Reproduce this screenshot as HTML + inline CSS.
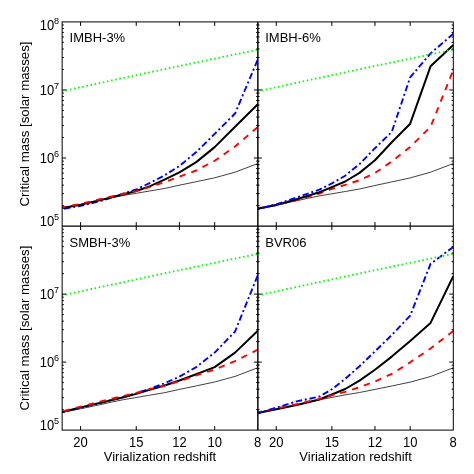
<!DOCTYPE html>
<html><head><meta charset="utf-8"><title>Critical mass vs virialization redshift</title>
<style>html,body{margin:0;padding:0;background:#fff}svg{display:block;will-change:transform}text{font-family:"Liberation Sans",sans-serif;fill:#000}</style></head><body>
<svg width="474" height="474" viewBox="0 0 474 474">
<rect width="474" height="474" fill="#fff"/>
<clipPath id="cIMBH3"><rect x="62.15" y="21.90" width="195.70" height="204.20"/></clipPath>
<g clip-path="url(#cIMBH3)" fill="none" stroke-linejoin="round">
<path d="M62.15 208.10 L80.59 204.60 L100.97 200.30 L112.03 197.80 L123.76 195.40 L136.24 193.30 L149.59 191.00 L163.93 188.60 L179.41 185.20 L196.24 181.70 L214.68 177.80 L235.06 172.20 L257.85 163.50" stroke="#000" stroke-width="0.75"/>
<path d="M62.15 209.10 L80.59 205.90 L100.97 200.90 L112.03 197.50 L123.76 193.40 L136.24 189.50 L149.59 183.10 L163.93 175.70 L179.41 166.00 L196.24 152.10 L214.68 133.90 L235.06 113.50 L257.85 59.40" stroke="#0000ff" stroke-width="1.9" stroke-dasharray="6.4 2.8 2 2.8" stroke-dashoffset="-2.0"/>
<path d="M62.15 208.10 L80.59 204.80 L100.97 199.90 L112.03 197.10 L123.76 194.30 L136.24 191.00 L149.59 186.40 L163.93 179.90 L179.41 172.40 L196.24 162.10 L214.68 147.10 L235.06 126.80 L257.85 104.20" stroke="#000" stroke-width="2"/>
<path d="M62.15 207.30 L80.59 203.90 L100.97 199.00 L112.03 196.30 L123.76 193.70 L136.24 191.10 L149.59 187.20 L163.93 182.40 L179.41 176.70 L196.24 170.50 L214.68 160.80 L235.06 146.50 L257.85 127.00" stroke="#ff0000" stroke-width="1.9" stroke-dasharray="6.4 6.0" stroke-dashoffset="-10.0"/>
<path d="M62.15 91.23 L71.15 89.27 L80.59 87.21 L90.51 85.05 L100.97 82.78 L112.03 80.39 L123.76 77.86 L136.24 75.17 L149.59 72.32 L163.93 69.26 L179.41 65.98 L196.24 62.44 L214.68 58.59 L235.06 54.37 L257.85 49.71" stroke="#00ff00" stroke-width="1.8" stroke-dasharray="1.6 2.615" stroke-dashoffset="-3.7"/>
</g>
<clipPath id="cIMBH6"><rect x="257.85" y="21.90" width="195.45" height="204.20"/></clipPath>
<g clip-path="url(#cIMBH6)" fill="none" stroke-linejoin="round">
<path d="M257.85 208.40 L276.26 205.00 L296.62 200.80 L307.66 198.30 L319.38 195.90 L331.85 193.80 L345.18 191.50 L359.50 189.00 L374.96 185.50 L391.77 181.90 L410.19 177.90 L430.54 172.20 L453.30 163.50" stroke="#000" stroke-width="0.75"/>
<path d="M257.85 208.30 L276.26 205.10 L296.62 200.00 L319.38 193.70 L331.85 188.90 L345.18 184.90 L359.50 180.20 L374.96 173.10 L391.77 161.40 L410.19 146.90 L430.54 126.90 L453.30 70.10" stroke="#ff0000" stroke-width="1.9" stroke-dasharray="6.4 6.0" stroke-dashoffset="-11.5"/>
<path d="M257.85 208.70 L276.26 205.00 L296.62 199.20 L319.38 192.20 L331.85 187.10 L345.18 181.50 L359.50 172.90 L374.96 160.30 L391.77 142.20 L410.19 123.70 L430.54 66.30 L453.30 44.90" stroke="#000" stroke-width="2"/>
<path d="M257.85 209.00 L276.26 204.30 L296.62 197.50 L319.38 189.60 L331.85 183.40 L345.18 175.70 L359.50 164.10 L374.96 148.20 L391.77 131.90 L410.19 77.30 L430.54 53.40 L453.30 33.80" stroke="#0000ff" stroke-width="1.9" stroke-dasharray="6.4 2.8 2 2.8" stroke-dashoffset="-4.8"/>
<path d="M257.85 91.23 L266.84 89.27 L276.26 87.21 L286.18 85.05 L296.62 82.78 L307.66 80.39 L319.38 77.86 L331.85 75.17 L345.18 72.32 L359.50 69.26 L374.96 65.98 L391.77 62.44 L410.19 58.59 L430.54 54.37 L453.30 49.71" stroke="#00ff00" stroke-width="1.8" stroke-dasharray="1.6 2.615" stroke-dashoffset="-3.7"/>
</g>
<clipPath id="cSMBH3"><rect x="62.15" y="226.10" width="195.70" height="204.00"/></clipPath>
<g clip-path="url(#cSMBH3)" fill="none" stroke-linejoin="round">
<path d="M62.15 412.30 L80.59 408.80 L100.97 404.50 L112.03 402.00 L123.76 399.60 L136.24 397.50 L149.59 395.20 L163.93 392.80 L179.41 389.40 L196.24 385.90 L214.68 382.00 L235.06 376.40 L257.85 367.70" stroke="#000" stroke-width="0.75"/>
<path d="M62.15 412.40 L80.59 407.70 L100.97 402.80 L123.76 396.90 L136.24 393.20 L149.59 388.80 L163.93 383.60 L179.41 376.60 L196.24 367.10 L214.68 352.60 L235.06 331.50 L257.85 275.10" stroke="#0000ff" stroke-width="1.9" stroke-dasharray="6.4 2.8 2 2.8" stroke-dashoffset="-10.8"/>
<path d="M62.15 411.90 L80.59 407.40 L100.97 402.60 L123.76 397.30 L136.24 393.90 L149.59 389.90 L163.93 385.80 L179.41 380.50 L196.24 374.20 L214.68 367.10 L235.06 352.60 L257.85 330.70" stroke="#000" stroke-width="2"/>
<path d="M62.15 411.50 L80.59 406.60 L100.97 401.40 L123.76 395.80 L136.24 392.90 L149.59 389.10 L163.93 385.80 L179.41 381.20 L196.24 375.30 L214.68 369.50 L235.06 361.10 L257.85 349.60" stroke="#ff0000" stroke-width="1.9" stroke-dasharray="6.4 6.0" stroke-dashoffset="-1.5"/>
<path d="M62.15 295.43 L71.15 293.47 L80.59 291.41 L90.51 289.25 L100.97 286.98 L112.03 284.59 L123.76 282.06 L136.24 279.37 L149.59 276.52 L163.93 273.46 L179.41 270.18 L196.24 266.64 L214.68 262.79 L235.06 258.57 L257.85 253.91" stroke="#00ff00" stroke-width="1.8" stroke-dasharray="1.6 2.615" stroke-dashoffset="-3.7"/>
</g>
<clipPath id="cBVR06"><rect x="257.85" y="226.10" width="195.45" height="204.00"/></clipPath>
<g clip-path="url(#cBVR06)" fill="none" stroke-linejoin="round">
<path d="M257.85 412.80 L276.26 409.30 L296.62 405.00 L307.66 402.50 L319.38 399.80 L331.85 397.40 L345.18 394.90 L359.50 392.50 L374.96 389.40 L391.77 386.00 L410.19 382.10 L430.54 376.50 L453.30 367.80" stroke="#000" stroke-width="0.75"/>
<path d="M257.85 412.90 L276.26 409.30 L296.62 405.00 L319.38 399.50 L331.85 394.50 L345.18 389.00 L359.50 380.60 L374.96 369.70 L391.77 356.60 L410.19 340.90 L430.54 322.90 L453.30 276.10" stroke="#000" stroke-width="2"/>
<path d="M257.85 412.10 L276.26 408.50 L296.62 404.20 L319.38 398.90 L331.85 395.30 L345.18 391.80 L359.50 387.30 L374.96 381.50 L391.77 373.90 L410.19 362.30 L430.54 348.50 L453.30 331.00" stroke="#ff0000" stroke-width="1.9" stroke-dasharray="6.4 6.0" stroke-dashoffset="-10.1"/>
<path d="M257.85 413.30 L276.26 407.70 L296.62 401.40 L307.66 399.10 L319.38 396.60 L331.85 389.30 L345.18 378.90 L359.50 366.20 L374.96 351.40 L391.77 335.00 L410.19 315.60 L430.54 263.90 L453.30 246.90" stroke="#0000ff" stroke-width="1.9" stroke-dasharray="6.4 2.8 2 2.8" stroke-dashoffset="-11.7"/>
<path d="M257.85 295.43 L266.84 293.47 L276.26 291.41 L286.18 289.25 L296.62 286.98 L307.66 284.59 L319.38 282.06 L331.85 279.37 L345.18 276.52 L359.50 273.46 L374.96 270.18 L391.77 266.64 L410.19 262.79 L430.54 258.57 L453.30 253.91" stroke="#00ff00" stroke-width="1.8" stroke-dasharray="1.6 2.615" stroke-dashoffset="-3.7"/>
</g>
<g stroke="#000" stroke-width="1" fill="none">
<path d="M80.59 226.10 V222.10 M80.59 21.90 V25.90"/>
<path d="M136.24 226.10 V222.10 M136.24 21.90 V25.90"/>
<path d="M179.41 226.10 V222.10 M179.41 21.90 V25.90"/>
<path d="M214.68 226.10 V222.10 M214.68 21.90 V25.90"/>
<path d="M62.15 205.61 H63.85 M257.85 205.61 H256.15"/>
<path d="M62.15 193.62 H63.85 M257.85 193.62 H256.15"/>
<path d="M62.15 185.12 H63.85 M257.85 185.12 H256.15"/>
<path d="M62.15 178.52 H63.85 M257.85 178.52 H256.15"/>
<path d="M62.15 173.13 H63.85 M257.85 173.13 H256.15"/>
<path d="M62.15 168.58 H63.85 M257.85 168.58 H256.15"/>
<path d="M62.15 164.63 H63.85 M257.85 164.63 H256.15"/>
<path d="M62.15 161.15 H63.85 M257.85 161.15 H256.15"/>
<path d="M62.15 158.03 H66.15 M257.85 158.03 H253.85"/>
<path d="M62.15 137.54 H63.85 M257.85 137.54 H256.15"/>
<path d="M62.15 125.56 H63.85 M257.85 125.56 H256.15"/>
<path d="M62.15 117.05 H63.85 M257.85 117.05 H256.15"/>
<path d="M62.15 110.46 H63.85 M257.85 110.46 H256.15"/>
<path d="M62.15 105.07 H63.85 M257.85 105.07 H256.15"/>
<path d="M62.15 100.51 H63.85 M257.85 100.51 H256.15"/>
<path d="M62.15 96.56 H63.85 M257.85 96.56 H256.15"/>
<path d="M62.15 93.08 H63.85 M257.85 93.08 H256.15"/>
<path d="M62.15 89.97 H66.15 M257.85 89.97 H253.85"/>
<path d="M62.15 69.48 H63.85 M257.85 69.48 H256.15"/>
<path d="M62.15 57.49 H63.85 M257.85 57.49 H256.15"/>
<path d="M62.15 48.99 H63.85 M257.85 48.99 H256.15"/>
<path d="M62.15 42.39 H63.85 M257.85 42.39 H256.15"/>
<path d="M62.15 37.00 H63.85 M257.85 37.00 H256.15"/>
<path d="M62.15 32.44 H63.85 M257.85 32.44 H256.15"/>
<path d="M62.15 28.50 H63.85 M257.85 28.50 H256.15"/>
<path d="M62.15 25.01 H63.85 M257.85 25.01 H256.15"/>
<path d="M276.26 226.10 V222.10 M276.26 21.90 V25.90"/>
<path d="M331.85 226.10 V222.10 M331.85 21.90 V25.90"/>
<path d="M374.96 226.10 V222.10 M374.96 21.90 V25.90"/>
<path d="M410.19 226.10 V222.10 M410.19 21.90 V25.90"/>
<path d="M257.85 205.61 H259.55 M453.30 205.61 H451.60"/>
<path d="M257.85 193.62 H259.55 M453.30 193.62 H451.60"/>
<path d="M257.85 185.12 H259.55 M453.30 185.12 H451.60"/>
<path d="M257.85 178.52 H259.55 M453.30 178.52 H451.60"/>
<path d="M257.85 173.13 H259.55 M453.30 173.13 H451.60"/>
<path d="M257.85 168.58 H259.55 M453.30 168.58 H451.60"/>
<path d="M257.85 164.63 H259.55 M453.30 164.63 H451.60"/>
<path d="M257.85 161.15 H259.55 M453.30 161.15 H451.60"/>
<path d="M257.85 158.03 H261.85 M453.30 158.03 H449.30"/>
<path d="M257.85 137.54 H259.55 M453.30 137.54 H451.60"/>
<path d="M257.85 125.56 H259.55 M453.30 125.56 H451.60"/>
<path d="M257.85 117.05 H259.55 M453.30 117.05 H451.60"/>
<path d="M257.85 110.46 H259.55 M453.30 110.46 H451.60"/>
<path d="M257.85 105.07 H259.55 M453.30 105.07 H451.60"/>
<path d="M257.85 100.51 H259.55 M453.30 100.51 H451.60"/>
<path d="M257.85 96.56 H259.55 M453.30 96.56 H451.60"/>
<path d="M257.85 93.08 H259.55 M453.30 93.08 H451.60"/>
<path d="M257.85 89.97 H261.85 M453.30 89.97 H449.30"/>
<path d="M257.85 69.48 H259.55 M453.30 69.48 H451.60"/>
<path d="M257.85 57.49 H259.55 M453.30 57.49 H451.60"/>
<path d="M257.85 48.99 H259.55 M453.30 48.99 H451.60"/>
<path d="M257.85 42.39 H259.55 M453.30 42.39 H451.60"/>
<path d="M257.85 37.00 H259.55 M453.30 37.00 H451.60"/>
<path d="M257.85 32.44 H259.55 M453.30 32.44 H451.60"/>
<path d="M257.85 28.50 H259.55 M453.30 28.50 H451.60"/>
<path d="M257.85 25.01 H259.55 M453.30 25.01 H451.60"/>
<path d="M80.59 430.10 V426.10 M80.59 226.10 V230.10"/>
<path d="M136.24 430.10 V426.10 M136.24 226.10 V230.10"/>
<path d="M179.41 430.10 V426.10 M179.41 226.10 V230.10"/>
<path d="M214.68 430.10 V426.10 M214.68 226.10 V230.10"/>
<path d="M62.15 409.63 H63.85 M257.85 409.63 H256.15"/>
<path d="M62.15 397.66 H63.85 M257.85 397.66 H256.15"/>
<path d="M62.15 389.16 H63.85 M257.85 389.16 H256.15"/>
<path d="M62.15 382.57 H63.85 M257.85 382.57 H256.15"/>
<path d="M62.15 377.19 H63.85 M257.85 377.19 H256.15"/>
<path d="M62.15 372.63 H63.85 M257.85 372.63 H256.15"/>
<path d="M62.15 368.69 H63.85 M257.85 368.69 H256.15"/>
<path d="M62.15 365.21 H63.85 M257.85 365.21 H256.15"/>
<path d="M62.15 362.10 H66.15 M257.85 362.10 H253.85"/>
<path d="M62.15 341.63 H63.85 M257.85 341.63 H256.15"/>
<path d="M62.15 329.66 H63.85 M257.85 329.66 H256.15"/>
<path d="M62.15 321.16 H63.85 M257.85 321.16 H256.15"/>
<path d="M62.15 314.57 H63.85 M257.85 314.57 H256.15"/>
<path d="M62.15 309.19 H63.85 M257.85 309.19 H256.15"/>
<path d="M62.15 304.63 H63.85 M257.85 304.63 H256.15"/>
<path d="M62.15 300.69 H63.85 M257.85 300.69 H256.15"/>
<path d="M62.15 297.21 H63.85 M257.85 297.21 H256.15"/>
<path d="M62.15 294.10 H66.15 M257.85 294.10 H253.85"/>
<path d="M62.15 273.63 H63.85 M257.85 273.63 H256.15"/>
<path d="M62.15 261.66 H63.85 M257.85 261.66 H256.15"/>
<path d="M62.15 253.16 H63.85 M257.85 253.16 H256.15"/>
<path d="M62.15 246.57 H63.85 M257.85 246.57 H256.15"/>
<path d="M62.15 241.19 H63.85 M257.85 241.19 H256.15"/>
<path d="M62.15 236.63 H63.85 M257.85 236.63 H256.15"/>
<path d="M62.15 232.69 H63.85 M257.85 232.69 H256.15"/>
<path d="M62.15 229.21 H63.85 M257.85 229.21 H256.15"/>
<path d="M276.26 430.10 V426.10 M276.26 226.10 V230.10"/>
<path d="M331.85 430.10 V426.10 M331.85 226.10 V230.10"/>
<path d="M374.96 430.10 V426.10 M374.96 226.10 V230.10"/>
<path d="M410.19 430.10 V426.10 M410.19 226.10 V230.10"/>
<path d="M257.85 409.63 H259.55 M453.30 409.63 H451.60"/>
<path d="M257.85 397.66 H259.55 M453.30 397.66 H451.60"/>
<path d="M257.85 389.16 H259.55 M453.30 389.16 H451.60"/>
<path d="M257.85 382.57 H259.55 M453.30 382.57 H451.60"/>
<path d="M257.85 377.19 H259.55 M453.30 377.19 H451.60"/>
<path d="M257.85 372.63 H259.55 M453.30 372.63 H451.60"/>
<path d="M257.85 368.69 H259.55 M453.30 368.69 H451.60"/>
<path d="M257.85 365.21 H259.55 M453.30 365.21 H451.60"/>
<path d="M257.85 362.10 H261.85 M453.30 362.10 H449.30"/>
<path d="M257.85 341.63 H259.55 M453.30 341.63 H451.60"/>
<path d="M257.85 329.66 H259.55 M453.30 329.66 H451.60"/>
<path d="M257.85 321.16 H259.55 M453.30 321.16 H451.60"/>
<path d="M257.85 314.57 H259.55 M453.30 314.57 H451.60"/>
<path d="M257.85 309.19 H259.55 M453.30 309.19 H451.60"/>
<path d="M257.85 304.63 H259.55 M453.30 304.63 H451.60"/>
<path d="M257.85 300.69 H259.55 M453.30 300.69 H451.60"/>
<path d="M257.85 297.21 H259.55 M453.30 297.21 H451.60"/>
<path d="M257.85 294.10 H261.85 M453.30 294.10 H449.30"/>
<path d="M257.85 273.63 H259.55 M453.30 273.63 H451.60"/>
<path d="M257.85 261.66 H259.55 M453.30 261.66 H451.60"/>
<path d="M257.85 253.16 H259.55 M453.30 253.16 H451.60"/>
<path d="M257.85 246.57 H259.55 M453.30 246.57 H451.60"/>
<path d="M257.85 241.19 H259.55 M453.30 241.19 H451.60"/>
<path d="M257.85 236.63 H259.55 M453.30 236.63 H451.60"/>
<path d="M257.85 232.69 H259.55 M453.30 232.69 H451.60"/>
<path d="M257.85 229.21 H259.55 M453.30 229.21 H451.60"/>
</g>
<g stroke="#000" stroke-width="1" fill="none">
<rect x="62.15" y="21.90" width="391.15" height="408.20"/>
<path d="M257.85 21.90 V430.10"/>
<path d="M257.85 21.90 V430.10"/>
<path d="M62.15 226.10 H453.30" stroke-width="1.2"/>
</g>
<text x="69.55" y="42.00" font-size="13">IMBH-3%</text>
<text x="265.25" y="42.00" font-size="13">IMBH-6%</text>
<text x="69.55" y="246.70" font-size="13">SMBH-3%</text>
<text x="265.25" y="246.70" font-size="13">BVR06</text>
<text transform="translate(80.59 447.20) scale(1 1.06)" font-size="13" text-anchor="middle">20</text>
<text transform="translate(136.24 447.20) scale(1 1.06)" font-size="13" text-anchor="middle">15</text>
<text transform="translate(179.41 447.20) scale(1 1.06)" font-size="13" text-anchor="middle">12</text>
<text transform="translate(214.68 447.20) scale(1 1.06)" font-size="13" text-anchor="middle">10</text>
<text transform="translate(257.55 447.20) scale(1 1.06)" font-size="13" text-anchor="middle">8</text>
<text x="160.00" y="461.00" font-size="13" text-anchor="middle">Virialization redshift</text>
<text transform="translate(276.26 447.20) scale(1 1.06)" font-size="13" text-anchor="middle">20</text>
<text transform="translate(331.85 447.20) scale(1 1.06)" font-size="13" text-anchor="middle">15</text>
<text transform="translate(374.96 447.20) scale(1 1.06)" font-size="13" text-anchor="middle">12</text>
<text transform="translate(410.19 447.20) scale(1 1.06)" font-size="13" text-anchor="middle">10</text>
<text transform="translate(453.00 447.20) scale(1 1.06)" font-size="13" text-anchor="middle">8</text>
<text x="355.58" y="461.00" font-size="13" text-anchor="middle">Virialization redshift</text>
<text transform="translate(28.5 124.00) rotate(-90)" font-size="13.25" text-anchor="middle">Critical mass [solar masses]</text>
<text transform="translate(54.30 226.10) scale(1 1.06)" font-size="13" text-anchor="end">10</text>
<text x="53.90" y="219.80" font-size="9">5</text>
<text transform="translate(54.30 162.93) scale(1 1.06)" font-size="13" text-anchor="end">10</text>
<text x="53.90" y="156.63" font-size="9">6</text>
<text transform="translate(54.30 94.87) scale(1 1.06)" font-size="13" text-anchor="end">10</text>
<text x="53.90" y="88.57" font-size="9">7</text>
<text transform="translate(54.30 30.10) scale(1 1.06)" font-size="13" text-anchor="end">10</text>
<text x="53.90" y="23.80" font-size="9">8</text>
<text transform="translate(28.5 328.10) rotate(-90)" font-size="13.25" text-anchor="middle">Critical mass [solar masses]</text>
<text transform="translate(54.30 430.10) scale(1 1.06)" font-size="13" text-anchor="end">10</text>
<text x="53.90" y="423.80" font-size="9">5</text>
<text transform="translate(54.30 367.00) scale(1 1.06)" font-size="13" text-anchor="end">10</text>
<text x="53.90" y="360.70" font-size="9">6</text>
<text transform="translate(54.30 299.00) scale(1 1.06)" font-size="13" text-anchor="end">10</text>
<text x="53.90" y="292.70" font-size="9">7</text>
</svg></body></html>
